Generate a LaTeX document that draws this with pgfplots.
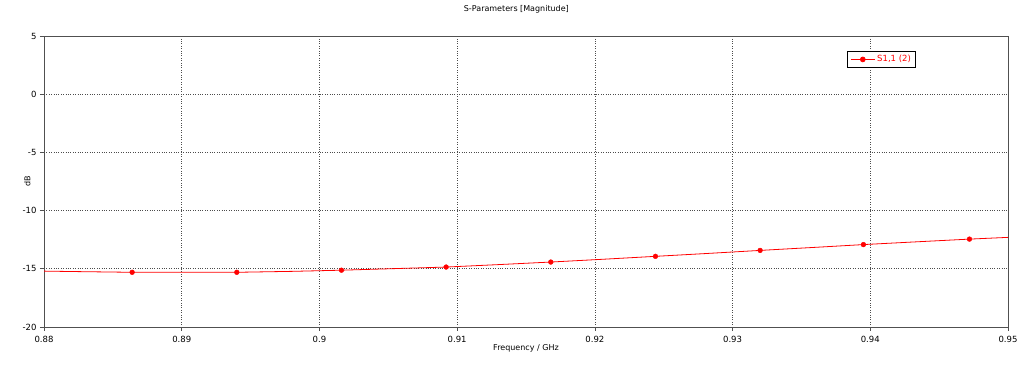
\documentclass[border=0pt]{standalone}
\usepackage{pgfplots}
\pgfplotsset{compat=1.18}
\usepackage{fontspec}
\setmainfont{DejaVu Sans}
\definecolor{axgray}{RGB}{80,80,80}
\begin{document}
\begin{tikzpicture}[x=1pt,y=1pt]
\useasboundingbox (0,0) rectangle (1024,366);
\begin{axis}[
  at={(44pt,39pt)}, anchor=south west,
  scale only axis, width=964pt, height=291pt,
  xmin=0.88, xmax=0.95, ymin=-20, ymax=5,
  xtick={0.88,0.89,...,0.95},
  xticklabels={0.88,0.89,0.9,0.91,0.92,0.93,0.94,0.95},
  ytick={-20,-15,...,5},
  font=\fontsize{8.5}{10}\selectfont,
  /pgf/number format/assume math mode=true,
  axis line style={axgray, line width=0.8pt},
  tick style={axgray, line width=0.6pt},
  tick align=outside, major tick length=4pt,
  xtick pos=left, ytick pos=left,
  grid=major,
  major grid style={black!70, dotted, line width=0.6pt},
  title={S-Parameters [Magnitude]},
  title style={at={(0.49,1)}, anchor=south, yshift=13pt, font=\fontsize{8}{10}\selectfont},
  xlabel={Frequency / GHz},
  xlabel style={at={(0.5,0)}, anchor=north, yshift=-14pt, font=\fontsize{8}{10}\selectfont},
  ylabel={dB},
  ylabel style={at={(0,0.5)}, anchor=south, yshift=10pt, font=\fontsize{8}{10}\selectfont},
  xticklabel style={yshift=-2pt},
  legend style={at={(0.833,0.95)}, anchor=north west, draw=black, line width=0.8pt,
    font=\fontsize{8.5}{10}\selectfont, text=red, inner xsep=3pt, inner ysep=2.5pt},
  legend cell align=left,
  legend image code/.code={
    \draw[mark repeat=2, mark phase=2, #1] plot coordinates {(0pt,0pt) (12pt,0pt) (24pt,0pt)};
  },
]
\addplot[red, line width=0.8pt, no markers,
  legend image post style={mark=*, mark size=2.4pt}] coordinates {
 (0.880,-15.20) (0.883,-15.25) (0.8864,-15.30) (0.890,-15.30) (0.8940,-15.30)
 (0.898,-15.22) (0.9016,-15.12) (0.905,-15.00) (0.9092,-14.85) (0.913,-14.64)
 (0.9168,-14.42) (0.9206,-14.18) (0.9244,-13.93) (0.9282,-13.68) (0.9320,-13.42)
 (0.9358,-13.17) (0.9395,-12.92) (0.9434,-12.68) (0.9472,-12.45) (0.9500,-12.30)
};
\addlegendentry{S1,1 (2)}
\addplot[only marks, red, mark=*, mark size=2.4pt, forget plot] coordinates {
 (0.8864,-15.30) (0.8940,-15.30) (0.9016,-15.12) (0.9092,-14.85) (0.9168,-14.42)
 (0.9244,-13.93) (0.9320,-13.42) (0.9395,-12.92) (0.9472,-12.45)
};
\end{axis}
\end{tikzpicture}
\end{document}
